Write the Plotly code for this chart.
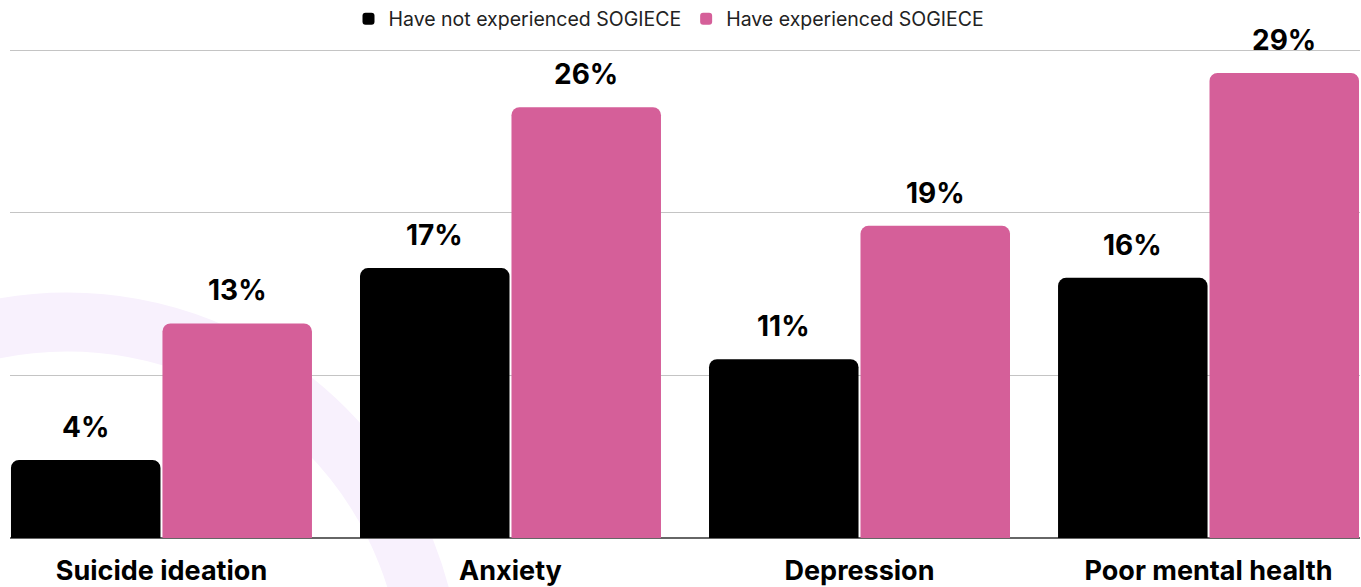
import plotly.graph_objects as go

categories = ["Suicide ideation", "Anxiety", "Depression", "Poor mental health"]
series_names = ["Have not experienced SOGIECE", "Have experienced SOGIECE"]
not_experienced = [4.8, 16.6, 11.0, 16.0]
experienced = [13.2, 26.5, 19.2, 28.6]
not_experienced_labels = ["4%", "17%", "11%", "16%"]
experienced_labels = ["13%", "26%", "19%", "29%"]
colors = ["#000000", "#d55f99"]

fig = go.Figure()
for name, vals, col in zip(series_names, [not_experienced, experienced], colors):
    fig.add_trace(go.Bar(x=categories, y=vals, name=name, marker=dict(color=col, line=dict(width=0))))

BARGAP = 0.132
half = (1 - BARGAP) / 4
annotations = []
for k, (vals, labels) in enumerate([(not_experienced, not_experienced_labels), (experienced, experienced_labels)]):
    for j, (v, lab) in enumerate(zip(vals, labels)):
        annotations.append(dict(
            x=j + (-half if k == 0 else half), y=v, xref="x", yref="y",
            text="<b>" + lab + "</b>", showarrow=False, yanchor="middle", yshift=33,
            font=dict(family="Inter", size=28, color="#000000"),
        ))

YMAX = 30.2
W, H = 1361, 587
L, R, T, B = 10, 1, 47, 49
pw, ph = W - L - R, H - T - B
cx, cy, rad = 67, 687, 365

def px_to_paper_x(p):
    return (p - L) / pw

def px_to_paper_y(p):
    return (H - B - p) / ph

fig.add_shape(type="circle", xref="paper", yref="paper",
              x0=px_to_paper_x(cx - rad), x1=px_to_paper_x(cx + rad),
              y0=px_to_paper_y(cy + rad), y1=px_to_paper_y(cy - rad),
              line=dict(color="#f8f1fd", width=59), fillcolor="rgba(0,0,0,0)", layer="below")

fig.update_layout(
    width=W, height=H,
    margin=dict(l=L, r=R, t=T, b=B, pad=0, autoexpand=False),
    paper_bgcolor="rgba(0,0,0,0)", plot_bgcolor="rgba(0,0,0,0)",
    barmode="group", bargap=BARGAP, bargroupgap=0.013, barcornerradius=8,
    font=dict(family="Inter", color="#000000"),
    showlegend=True,
    legend=dict(orientation="h", x=px_to_paper_x(669), xanchor="center", y=px_to_paper_y(19), yanchor="middle",
                font=dict(family="Inter", size=19.5, color="#222222"), itemwidth=30,
                bgcolor="rgba(0,0,0,0)"),
    annotations=annotations,
    xaxis=dict(range=[-0.434, 3.434], showgrid=False, zeroline=False, showline=False, automargin=False,
               ticks="outside", ticklen=9, tickcolor="rgba(0,0,0,0)",
               tickfont=dict(family="Inter", size=27, color="#000000", weight="bold")),
    yaxis=dict(range=[0, YMAX], showticklabels=False, tickvals=[0, 10, 20, 30], automargin=False,
               showgrid=True, gridcolor="#c4c4c4", gridwidth=1,
               zeroline=True, zerolinecolor="#666666", zerolinewidth=2, showline=False),
)

fig.write_html("out.html")
